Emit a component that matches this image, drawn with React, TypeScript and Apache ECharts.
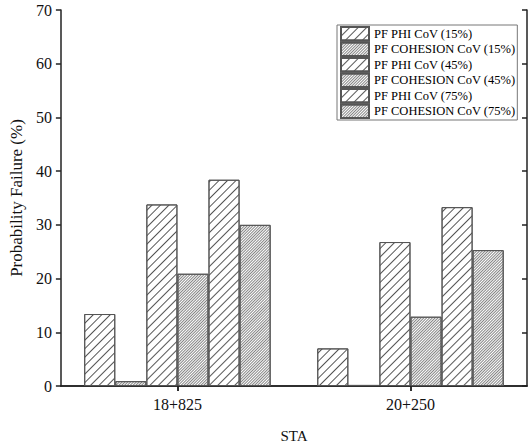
import React, { useEffect, useRef } from "react";
import * as echarts from "echarts";

const categories = ["18+825", "20+250"];
const seriesNames = [
  "PF PHI CoV (15%)",
  "PF COHESION CoV (15%)",
  "PF PHI CoV (45%)",
  "PF COHESION CoV (45%)",
  "PF PHI CoV (75%)",
  "PF COHESION CoV (75%)",
];
const phi15 = [13.4, 7.0];
const coh15 = [0.9, 0.2];
const phi45 = [33.8, 26.8];
const coh45 = [20.9, 12.9];
const phi75 = [38.4, 33.3];
const coh75 = [30.0, 25.3];
const seriesValues = [phi15, coh15, phi45, coh45, phi75, coh75];

const FONT = "'Liberation Serif', 'DejaVu Serif', serif";

export default function App() {
  const ref = useRef<HTMLDivElement>(null);
  useEffect(() => {
    if (!ref.current) return;
    const chart = echarts.init(ref.current, null, { renderer: "svg" });
    const sparse = {
      symbol: "rect",
      symbolSize: 1,
      dashArrayX: [1, 0],
      dashArrayY: [1, 5],
      rotation: -Math.PI / 4,
      color: "#555",
    };
    const dense = {
      symbol: "rect",
      symbolSize: 0.8,
      dashArrayX: [1, 0],
      dashArrayY: [1, 1],
      rotation: -Math.PI / 4,
      color: "#666",
    };
    const axisLine = { show: true, lineStyle: { color: "#222", width: 1.5 } };
    chart.setOption({
      animation: false,
      backgroundColor: "#fff",
      grid: { left: 60, right: 1, top: 10, bottom: 58 },
      legend: {
        orient: "vertical",
        left: 337,
        top: 25,
        padding: [1, 2, 1, 3],
        itemGap: 0,
        itemWidth: 28,
        itemHeight: 13.5,
        itemTextGap: 3,
        borderColor: "#777",
        borderWidth: 1,
        icon: "rect",
        textStyle: { fontFamily: FONT, fontSize: 12.5, color: "#000", lineHeight: 15.5 },
        data: seriesNames,
      },
      xAxis: [
        {
          type: "category",
          data: categories,
          position: "bottom",
          axisLine,
          axisTick: { show: true, alignWithLabel: true, length: 5, lineStyle: { color: "#222", width: 1.5 } },
          axisLabel: { fontFamily: FONT, fontSize: 16, color: "#111", margin: 10 },
          name: "STA",
          nameLocation: "middle",
          nameGap: 42,
          nameTextStyle: { fontFamily: FONT, fontSize: 15, color: "#111" },
        },
        {
          type: "category",
          data: categories,
          position: "top",
          axisLine,
          axisTick: { show: true, inside: true, alignWithLabel: true, length: 5, lineStyle: { color: "#222", width: 1.5 } },
          axisLabel: { show: false },
        },
      ],
      yAxis: [
        {
          type: "value",
          min: 0,
          max: 70,
          interval: 10,
          position: "left",
          axisLine,
          axisTick: { show: true, length: 5, lineStyle: { color: "#222", width: 1.5 } },
          axisLabel: { fontFamily: FONT, fontSize: 16, color: "#111", margin: 9 },
          splitLine: { show: false },
          name: "Probability Failure (%)",
          nameLocation: "middle",
          nameGap: 33,
          nameTextStyle: { fontFamily: FONT, fontSize: 17, color: "#111" },
        },
        {
          type: "value",
          min: 0,
          max: 70,
          interval: 10,
          position: "right",
          axisLine,
          axisTick: { show: true, inside: true, length: 5, lineStyle: { color: "#222", width: 1.5 } },
          axisLabel: { show: false },
          splitLine: { show: false },
        },
      ],
      series: seriesNames.map((name, i) => ({
        name,
        type: "bar",
        xAxisIndex: 0,
        yAxisIndex: 0,
        data: seriesValues[i],
        barGap: "0%",
        barCategoryGap: "20%",
        itemStyle: {
          color: "#fff",
          borderColor: "#555",
          borderWidth: 1,
          decal: i % 2 === 0 ? sparse : dense,
        },
      })),
    });
    return () => chart.dispose();
  }, []);
  return (
    <div
      ref={ref}
      style={{ position: "fixed", left: 0, top: 0, width: 528, height: 448 }}
    />
  );
}
